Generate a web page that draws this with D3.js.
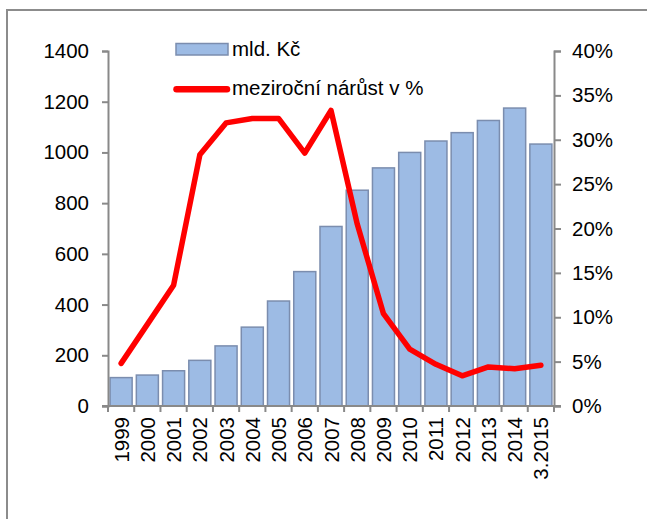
<!DOCTYPE html>
<html>
<head>
<meta charset="utf-8">
<script src="https://cdn.jsdelivr.net/npm/d3@7"></script>
<style>
  body { margin: 0; background: #fff; }
  text { font-family: "Liberation Sans", Arial, sans-serif; }
</style>
</head>
<body>
<script>
// data
const years = ["1999", "2000", "2001", "2002", "2003", "2004", "2005", "2006", "2007",
  "2008", "2009", "2010", "2011", "2012", "2013", "2014", "3.2015"]
const mldKc = [112, 122, 139, 180, 237, 311, 414, 530, 708, 851, 939, 1000, 1045, 1078, 1126, 1175, 1033]
const narust = [4.8, 9.2, 13.6, 28.3, 31.9, 32.4, 32.4, 28.5, 33.3, 20.5, 10.4, 6.4, 4.7, 3.4, 4.4, 4.2, 4.6]
const leftTicks = [0, 200, 400, 600, 800, 1000, 1200, 1400]
const rightTicks = [0, 5, 10, 15, 20, 25, 30, 35, 40]

const width = 647, height = 519
const margin = { left: 108, right: 93, top: 51, bottom: 113 }
const axisColor = "#898989"
const barFill = "#9dbbe4", barStroke = "#7b8dae"
const fontSize = "20.5px"

const svg = d3.select("body").append("svg")
  .attr("width", width)
  .attr("height", height)

// chart frame (only top and left edges fall inside the window)
svg.append("rect")
  .attr("x", 7).attr("y", 10)
  .attr("width", 700).attr("height", 600)
  .attr("fill", "none")
  .attr("stroke", "#8c8c8c")
  .attr("stroke-width", 2)

const x = d3.scaleBand()
  .domain(years)
  .range([margin.left, width - margin.right])
  .paddingInner(0.16)
  .paddingOuter(0.08)

const y = d3.scaleLinear().domain([0, 1400]).range([height - margin.bottom, margin.top])
const y2 = d3.scaleLinear().domain([0, 40]).range([height - margin.bottom, margin.top])

// bars
svg.append("g")
  .selectAll("rect")
  .data(mldKc)
  .join("rect")
  .attr("x", (d, i) => x(years[i]))
  .attr("y", d => y(d))
  .attr("width", x.bandwidth())
  .attr("height", d => y(0) - y(d))
  .attr("fill", barFill)
  .attr("stroke", barStroke)
  .attr("stroke-width", 1.5)

// left axis
const gl = svg.append("g")
  .attr("transform", `translate(${margin.left},0)`)
  .call(d3.axisLeft(y).tickValues(leftTicks).tickSize(6).tickPadding(13).tickFormat(d3.format("d")))
gl.selectAll("text").style("font-size", fontSize).attr("fill", "#000")

// right axis
const gr = svg.append("g")
  .attr("transform", `translate(${width - margin.right},0)`)
  .call(d3.axisRight(y2).tickValues(rightTicks).tickSize(7).tickPadding(11).tickFormat(d => d + "%"))
gr.selectAll("text").style("font-size", fontSize).attr("fill", "#000")

// bottom axis, ticks between the categories
const gb = svg.append("g")
  .attr("transform", `translate(0,${y(0)})`)
gb.append("line")
  .attr("x1", margin.left - 6).attr("x2", width - margin.right + 7)
  .attr("stroke", axisColor).attr("stroke-width", 2)
const edges = d3.range(years.length + 1).map(i => x.range()[0] + i * (x.range()[1] - x.range()[0]) / years.length)
gb.selectAll("line.tk")
  .data(edges)
  .join("line")
  .attr("class", "tk")
  .attr("x1", d => d).attr("x2", d => d)
  .attr("y1", 0).attr("y2", 6)
  .attr("stroke", axisColor).attr("stroke-width", 2)
gb.selectAll("text")
  .data(years)
  .join("text")
  .attr("transform", d => `translate(${x(d) + x.bandwidth() / 2 + 7.5},11) rotate(-90)`)
  .attr("text-anchor", "end")
  .style("font-size", fontSize)
  .text(d => d)

svg.selectAll(".domain, .tick line")
  .attr("stroke", axisColor)
  .attr("stroke-width", 2)

// growth line
const line = d3.line()
  .x((d, i) => x(years[i]) + x.bandwidth() / 2)
  .y(d => y2(d))

svg.append("path")
  .datum(narust)
  .attr("d", line)
  .attr("fill", "none")
  .attr("stroke", "#ff0000")
  .attr("stroke-width", 5.5)
  .attr("stroke-linejoin", "round")
  .attr("stroke-linecap", "round")

// legend
const lg = svg.append("g")
lg.append("rect")
  .attr("x", 176).attr("y", 43.5)
  .attr("width", 52).attr("height", 11.5)
  .attr("fill", barFill).attr("stroke", barStroke).attr("stroke-width", 1.5)
lg.append("text")
  .attr("x", 232).attr("y", 56)
  .style("font-size", fontSize)
  .text("mld. Kč")
lg.append("line")
  .attr("x1", 176.5).attr("x2", 227)
  .attr("y1", 89.3).attr("y2", 89.3)
  .attr("stroke", "#ff0000").attr("stroke-width", 6.5)
  .attr("stroke-linecap", "round")
lg.append("text")
  .attr("x", 232).attr("y", 95)
  .style("font-size", fontSize)
  .text("meziroční nárůst v %")
</script>
</body>
</html>
